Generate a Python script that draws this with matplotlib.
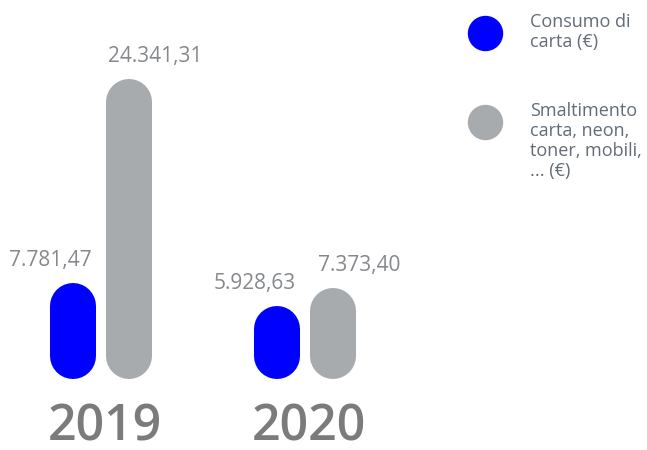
import matplotlib
matplotlib.use("Agg")
import matplotlib.pyplot as plt
import numpy as np

years = ["2019", "2020"]
consumo = [7781.47, 5928.63]
smaltimento = [24341.31, 7373.40]
series_names = ["Consumo di\ncarta (€)", "Smaltimento\ncarta, neon,\ntoner, mobili,\n... (€)"]
series_colors = ["#0000ff", "#a7abae"]


def fmt_it(v):
    s = "{:,.2f}".format(v)
    return s.replace(",", "X").replace(".", ",").replace("X", ".")


def main():
    plt.rcParams["font.family"] = ["Open Sans", "DejaVu Sans"]
    dpi = 100
    fig = plt.figure(figsize=[6.47, 4.5], dpi=dpi)
    ax = fig.add_axes([0, 0, 1, 1])
    ax.set_xlim(-0.495, 2.676)
    ax.set_ylim(-5800, 30800)
    ax.axis("off")

    bar_w = 0.2255
    offset = 0.137
    # bar width in pixels / points
    px_per_x = fig.get_figwidth() * dpi / (2.676 + 0.495)
    px_per_y = fig.get_figheight() * dpi / (30800 + 5800)
    half_px = bar_w * px_per_x / 2
    r = half_px / px_per_y
    lw = bar_w * px_per_x * 72 / dpi

    x = np.arange(len(years))
    for i, yr in enumerate(years):
        for j, (vals, col) in enumerate([(consumo, series_colors[0]),
                                         (smaltimento, series_colors[1])]):
            xc = x[i] + (-offset if j == 0 else offset)
            v = vals[i]
            ax.plot([xc, xc], [r, v - r], color=col, lw=lw,
                    solid_capstyle="round")
            dx = -0.11 if j == 0 else 0.13
            ax.text(xc + dx, v + 12 / px_per_y, fmt_it(v), ha="center",
                    va="bottom", fontsize=15, color="#85888c")
        ax.text(x[i] + 0.02, -4000, yr, ha="center", va="center",
                fontsize=36, fontweight="semibold", color="#7b7b7b")

    # legend
    for k, (name, col) in enumerate(zip(series_names, series_colors)):
        cy = 1 - (33 + 89 * k) / 450
        ax.scatter([485 / 647], [cy], s=(34 * 72 / dpi) ** 2, color=col,
                   transform=ax.transAxes, clip_on=False)
        ax.text(530 / 647, cy + 20 / 450, name, ha="left", va="top",
                fontsize=13, color="#626c76", linespacing=1.15,
                transform=ax.transAxes)

    fig.savefig("out.png", dpi=dpi)


if __name__ == "__main__":
    main()
